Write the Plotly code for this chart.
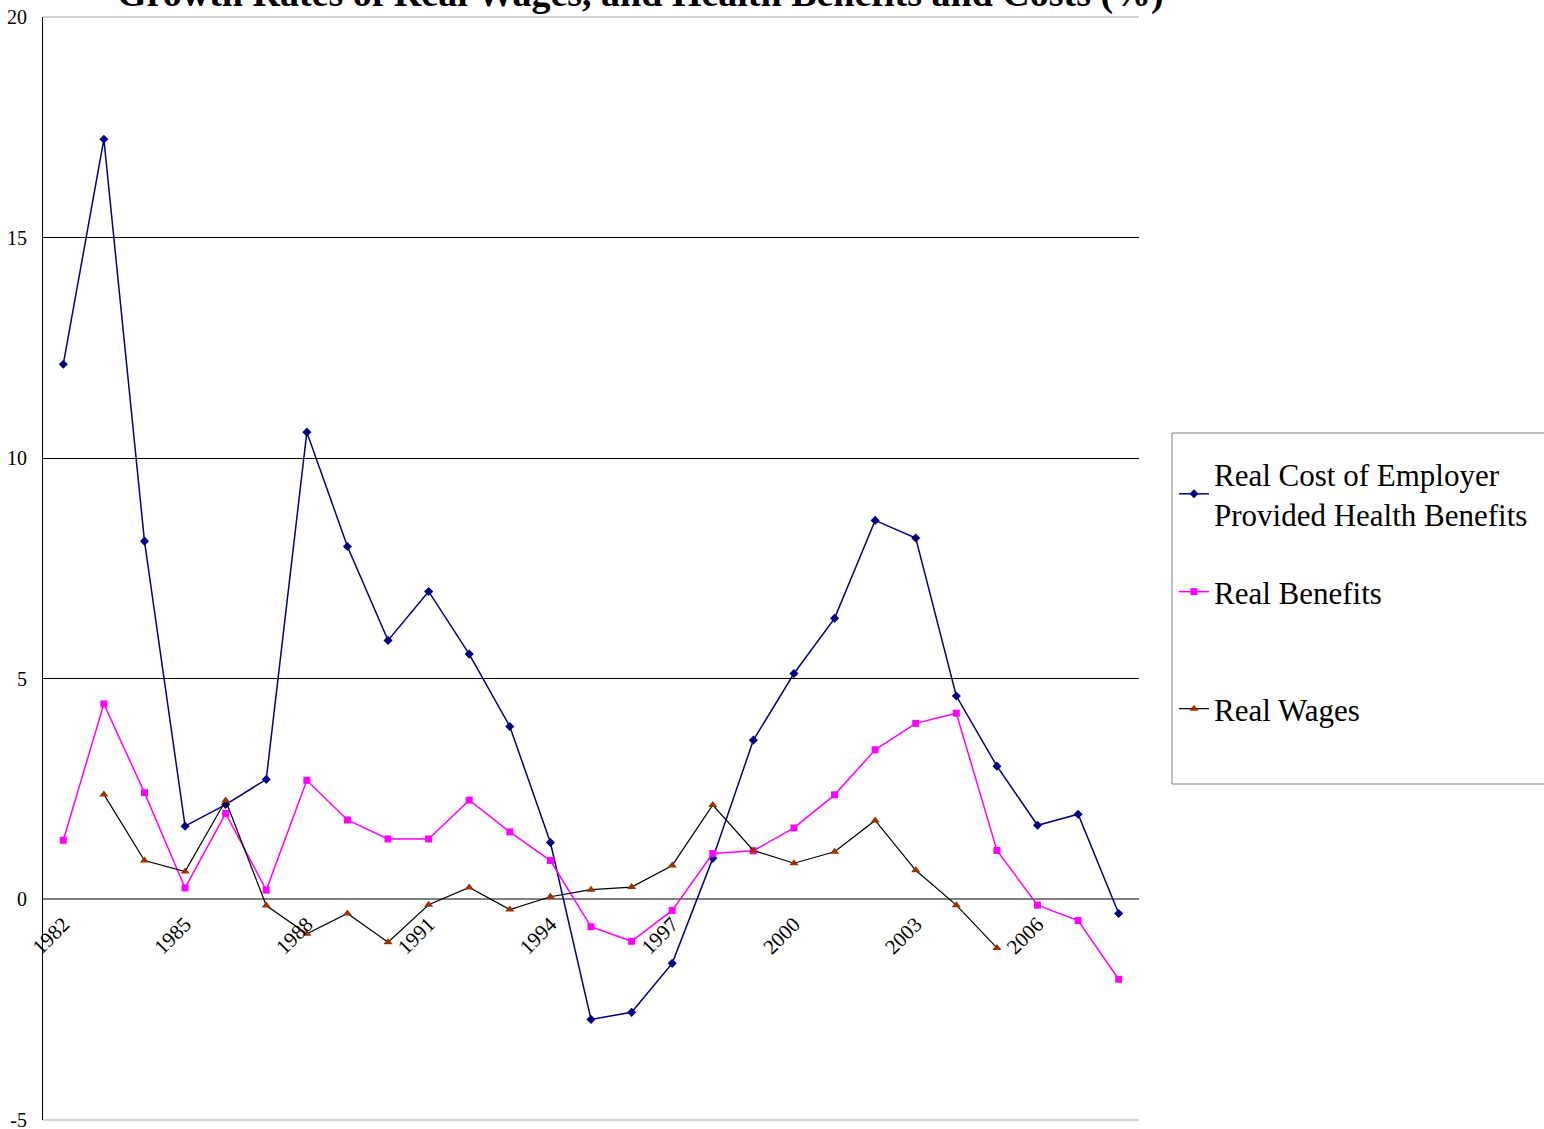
import plotly.graph_objects as go

# Annual growth rates (%)
years = [str(y) for y in range(1982, 2009)]

real_cost_health = [12.13, 17.23, 8.12, 1.66, 2.15, 2.72, 10.59, 8.00, 5.87, 6.98,
                    5.56, 3.92, 1.29, -2.72, -2.56, -1.45, 0.93, 3.61, 5.12, 6.37,
                    8.59, 8.19, 4.61, 3.02, 1.68, 1.93, -0.32]

real_benefits = [1.34, 4.43, 2.42, 0.26, 1.95, 0.21, 2.70, 1.80, 1.37, 1.37,
                 2.25, 1.53, 0.88, -0.62, -0.95, -0.25, 1.04, 1.10, 1.62, 2.37,
                 3.39, 3.99, 4.22, 1.11, -0.13, -0.48, -1.81]

real_wages = [None, 2.38, 0.88, 0.63, 2.24, -0.14, -0.78, -0.32, -0.97, -0.12,
              0.27, -0.23, 0.06, 0.22, 0.28, 0.77, 2.14, 1.11, 0.82, 1.08,
              1.79, 0.66, -0.13, -1.10, None, None, None]

tick_years = [str(y) for y in range(1982, 2009, 3)]
y_ticks = [-5, 0, 5, 10, 15, 20]
y_tick_labels = ["-5", "0", "5", "10", "15", "20"]

title_text = "Growth Rates of Real Wages, and Health Benefits and Costs (%)"
serif = "Liberation Serif, Times New Roman, serif"

fig = go.Figure()

fig.add_trace(go.Scatter(
    x=years, y=real_cost_health, mode="lines+markers",
    name="Real Cost of Employer<br>Provided Health Benefits",
    line=dict(color="#000080", width=1.5),
    marker=dict(symbol="diamond", size=7, color="#000080"),
    legend="legend",
))
fig.add_trace(go.Scatter(
    x=years, y=real_benefits, mode="lines+markers",
    name="Real Benefits",
    line=dict(color="#FF00FF", width=1.5),
    marker=dict(symbol="square", size=7, color="#FF00FF"),
    legend="legend2",
))
fig.add_trace(go.Scatter(
    x=years, y=real_wages, mode="lines+markers",
    name="Real Wages",
    line=dict(color="#000000", width=1.2),
    marker=dict(symbol="triangle-up", size=8, color="#993300"),
    connectgaps=False,
    legend="legend3",
))

L, R, T, B = 43, 405, 17, 9
W, H = 1544, 1129
pw, ph = W - L - R, H - T - B


def px_x(x):
    return (x - L) / pw


def px_y(y):
    return (H - B - y) / ph


def cx(x):
    return x / W


def cy(y):
    return 1 - y / H


legend_common = dict(
    xref="container", yref="container",
    xanchor="left", yanchor="middle", x=cx(1174),
    bgcolor="rgba(0,0,0,0)", borderwidth=0,
    font=dict(family=serif, size=31, color="black"),
)

fig.update_layout(
    width=W, height=H,
    margin=dict(l=L, r=R, t=T, b=B, pad=0, autoexpand=False),
    paper_bgcolor="white", plot_bgcolor="white",
    showlegend=True,
    legend=dict(y=cy(494), **legend_common),
    legend2=dict(y=cy(592), **legend_common),
    legend3=dict(y=cy(709), **legend_common),
    xaxis=dict(
        type="category", range=[-0.5, len(years) - 0.5],
        tickmode="array", tickvals=tick_years, ticktext=tick_years,
        tickangle=-45, showgrid=False, showline=False, zeroline=False,
        ticks="", ticklabelstandoff=8,
        tickfont=dict(family=serif, size=21, color="black"),
        anchor="free", position=px_y(899),
    ),
    yaxis=dict(
        range=[-5, 20], tickmode="array", tickvals=y_ticks, ticktext=y_tick_labels,
        showgrid=True, gridcolor="black", gridwidth=1,
        zeroline=True, zerolinecolor="#808080", zerolinewidth=2,
        showline=True, linecolor="black", linewidth=1,
        ticks="", ticklabelstandoff=11, ticklabeloverflow="allow",
        tickfont=dict(family=serif, size=20, color="black"),
    ),
    shapes=[
        dict(type="line", xref="paper", yref="paper", x0=0, x1=1, y0=1, y1=1,
             line=dict(color="#d0d0d0", width=2), layer="below"),
        dict(type="line", xref="paper", yref="paper", x0=0, x1=1, y0=0, y1=0,
             line=dict(color="#d0d0d0", width=2), layer="below"),
        dict(type="rect", xref="paper", yref="paper",
             x0=px_x(1172), x1=px_x(1600), y0=px_y(784), y1=px_y(433),
             line=dict(color="#808080", width=1), fillcolor="rgba(0,0,0,0)"),
    ],
    annotations=[
        dict(text="<b>" + title_text + "</b>", xref="paper", yref="paper",
             x=px_x(640), y=1, xanchor="center", yanchor="bottom", yshift=0,
             showarrow=False, font=dict(family=serif, size=38, color="black")),
    ],
)

fig.write_html("out.html")
